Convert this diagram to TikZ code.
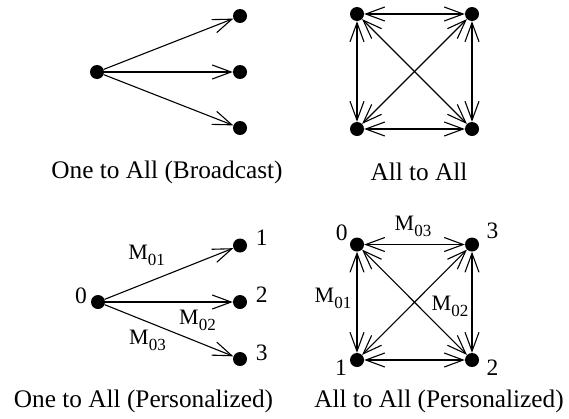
\documentclass[tikz,border=0pt]{standalone}
\usepackage{fontspec}
\setmainfont{Liberation Serif}
\usetikzlibrary{arrows.meta}
\newcommand\Msub[1]{{\fontsize{22}{24}\selectfont M}\raisebox{-6pt}{\fontsize{17}{18}\selectfont #1}}
\tikzset{
  dot/.style={circle,fill=black,inner sep=0pt,minimum size=14pt},
  arr/.style={line width=1.1pt,-{Straight Barb[length=19pt,width=14pt,line width=1.1pt]}},
  barr/.style={line width=1.1pt,{Straight Barb[length=19pt,width=14pt,line width=1.1pt]}-{Straight Barb[length=19pt,width=14pt,line width=1.1pt]}},
  captext/.style={font=\fontsize{25.3}{28}\selectfont,inner sep=0pt},
  num/.style={font=\fontsize{23.5}{25}\selectfont,inner sep=0pt,anchor=base},
  lab/.style={inner sep=0pt}
}
\begin{document}
\begin{tikzpicture}[x=1pt,y=-1pt]
\path[use as bounding box] (0,0) rectangle (569,418);
% top-left: one to all broadcast
\node[dot] (s) at (97,72) {};
\node[dot] (a) at (240,16) {};
\node[dot] (b) at (240,72) {};
\node[dot] (c) at (240,128) {};
\draw[arr] (s) -- (a);
\draw[arr] (s) -- (b);
\draw[arr] (s) -- (c);
\node[captext] (c1) at (167,172) {One to All (Broadcast)};
% top-right: all to all
\node[dot] (p) at (357,14) {};
\node[dot] (q) at (472,14) {};
\node[dot] (r) at (357,129) {};
\node[dot] (t) at (472,129) {};
\draw[barr] (p) -- (q);
\draw[barr] (r) -- (t);
\draw[barr] (p) -- (r);
\draw[barr] (q) -- (t);
\draw[barr] (p) -- (t);
\draw[barr] (q) -- (r);
\node[captext] (c2) at (419,172) {All to All};
% bottom-left: one to all personalized
\node[dot] (s2) at (98,302) {};
\node[dot] (a2) at (240,245.5) {};
\node[dot] (b2) at (240,302) {};
\node[dot] (d2) at (240,359) {};
\draw[arr] (s2) -- (a2);
\draw[arr] (s2) -- (b2);
\draw[arr] (s2) -- (d2);
\node[num] (n0) at (81,303) {0};
\node[num] (n1) at (261.7,245) {1};
\node[num] (n2) at (261.7,302) {2};
\node[num] (n3) at (261.7,360) {3};
\node[lab] (m01) at (146.7,255) {\Msub{01}};
\node[lab] (m02) at (197.5,320) {\Msub{02}};
\node[lab] (m03) at (147.5,340.5) {\Msub{03}};
\node[captext] (c3) at (143.5,401) {One to All (Personalized)};
% bottom-right: all to all personalized
\node[dot] (p2) at (357,244.5) {};
\node[dot] (q2) at (472,244.5) {};
\node[dot] (r2) at (357,360) {};
\node[dot] (t2) at (472,360) {};
\draw[barr] (p2) -- (q2);
\draw[barr] (r2) -- (t2);
\draw[barr] (p2) -- (r2);
\draw[barr] (q2) -- (t2);
\draw[barr] (p2) -- (t2);
\draw[barr] (q2) -- (r2);
\node[num] (k0) at (341.7,240) {0};
\node[num] (k3) at (492.5,238) {3};
\node[num] (k1) at (341,375) {1};
\node[num] (k2) at (492.5,375) {2};
\node[lab] (n03) at (413,226.5) {\Msub{03}};
\node[lab] (n02) at (450,306.5) {\Msub{02}};
\node[lab] (n01) at (333,298) {\Msub{01}};
\node[captext] (c4) at (439,401) {All to All (Personalized)};
\end{tikzpicture}
\end{document}
